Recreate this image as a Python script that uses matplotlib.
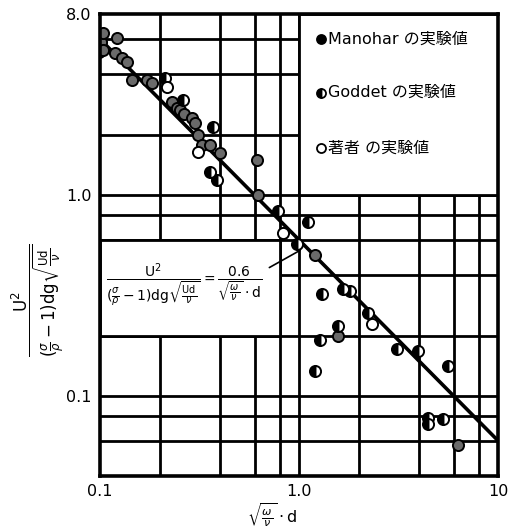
import matplotlib
matplotlib.use('Agg')
import matplotlib.pyplot as plt
from matplotlib.patches import Rectangle
import numpy as np

plt.rcParams['font.family'] = ['DejaVu Sans', 'Noto Sans CJK JP']
plt.rcParams['mathtext.fontset'] = 'dejavusans'

# Manohar data
manohar_x = [0.100, 0.101, 0.099, 0.1035, 0.1035, 0.122, 0.119, 0.129, 0.137, 0.145,
             0.172, 0.183, 0.230, 0.244, 0.252, 0.265, 0.290, 0.300, 0.311, 0.326,
             0.357, 0.401, 0.615, 0.622, 1.20, 1.57, 6.29]
manohar_y = [6.31, 5.82, 5.19, 5.31, 6.46, 6.10, 5.13, 4.84, 4.62, 3.76,
             3.76, 3.63, 2.92, 2.72, 2.66, 2.55, 2.43, 2.29, 2.00, 1.78,
             1.78, 1.62, 1.50, 1.00, 0.507, 0.20, 0.057]

# Goddet data
goddet_x = [0.212, 0.261, 0.370, 0.357, 0.387, 0.784, 1.11, 0.977, 1.305, 1.66,
            1.80, 1.57, 1.275, 1.20, 2.22, 3.11, 3.96, 5.61, 4.45, 4.45, 5.29]
goddet_y = [3.85, 2.99, 2.19, 1.30, 1.19, 0.84, 0.733, 0.575, 0.324, 0.343,
            0.335, 0.224, 0.19, 0.133, 0.26, 0.172, 0.168, 0.141, 0.0776, 0.0724, 0.0768]

# author's own data
author_x = [0.217, 0.311, 0.831, 2.33]
author_y = [3.47, 1.64, 0.646, 0.229]

# fitted line  U^2 / (...) = 0.6 / (sqrt(w/v) d)
coef = 0.6
fit_x = [0.1, 10.0]

grid_vals = [0.06, 0.08, 0.2, 0.4, 0.6, 0.8, 1, 2, 4, 6, 8]
legend_labels = ['Manohar の実験値', 'Goddet の実験値', '著者 の実験値']

ylab = r'$\dfrac{\mathrm{U}^2}{(\frac{\sigma}{\rho}-1)\mathrm{dg}\sqrt{\frac{\mathrm{Ud}}{\nu}}}$'
formula = (r'$\dfrac{\mathrm{U}^2}{(\frac{\sigma}{\rho}-1)\mathrm{dg}\sqrt{\frac{\mathrm{Ud}}{\nu}}}'
           r'=\dfrac{0.6}{\sqrt{\frac{\omega}{\nu}}\cdot\mathrm{d}}$')
xlab = r'$\sqrt{\frac{\omega}{\nu}}\cdot\mathrm{d}$'

fig = plt.figure(figsize=(5.08, 5.31), dpi=100)
ax = fig.add_axes([100 / 508, 55 / 531, 398 / 508, 462 / 531])
ax.set_xscale('log')
ax.set_yscale('log')
ax.set_xlim(0.1, 10)
ax.set_ylim(0.04, 8.0)

lw = 2.0
for v in grid_vals:
    if 0.1 < v < 10:
        ax.axvline(v, color='black', lw=lw, zorder=1)
for v in grid_vals + [0.1]:
    if 0.04 < v < 8:
        ax.axhline(v, color='black', lw=lw, zorder=1)

# blank boxes for the key and the formula
ax.add_patch(Rectangle((1.0, 1.0), 9.0, 7.0, facecolor='white', edgecolor='black',
                       lw=lw, zorder=2))
ax.add_patch(Rectangle((0.1, 0.2), 0.7, 0.4, facecolor='white', edgecolor='black',
                       lw=lw, zorder=2))

fx = np.array(fit_x)
ax.plot(fx, coef / fx, color='black', lw=2.6, zorder=3)

ms = 8
ax.plot(manohar_x, manohar_y, 'o', ms=ms, mfc='#6a6a6a', mec='black', mew=1.4, zorder=4)
ax.plot(goddet_x, goddet_y, 'o', ms=ms, fillstyle='left', mfc='black', mfcalt='white',
        mec='black', mew=1.4, zorder=4)
ax.plot(author_x, author_y, 'o', ms=ms, mfc='white', mec='black', mew=1.4, zorder=4)

# key
key_y = [0.945, 0.83, 0.71]
key_style = [dict(mfc='black', mec='black'),
             dict(fillstyle='left', mfc='black', mfcalt='white', mec='black'),
             dict(mfc='white', mec='black')]
for yy, lab, st in zip(key_y, legend_labels, key_style):
    ax.plot([0.555], [yy], 'o', ms=6.5, mew=1.3, transform=ax.transAxes, zorder=5, **st)
    ax.text(0.572, yy, lab, transform=ax.transAxes, fontsize=11.5, va='center',
            ha='left', zorder=5)

# formula
ax.text(0.212, 0.412, formula, transform=ax.transAxes, fontsize=10,
        ha='center', va='center', zorder=5)
ax.annotate('', xy=(1.04, 0.54), xytext=(0.69, 0.43),
            arrowprops=dict(arrowstyle='-', color='black', lw=1.2), zorder=5)

ax.set_xticks([0.1, 1.0, 10])
ax.set_xticklabels(['0.1', '1.0', '10'])
ax.set_yticks([0.1, 1.0, 8.0])
ax.set_yticklabels(['0.1', '1.0', '8.0'])
ax.minorticks_off()
ax.tick_params(length=0, labelsize=11.5, pad=6)
for s in ax.spines.values():
    s.set_linewidth(2.6)
    s.set_zorder(6)

fig.text(38 / 508, 1 - 300 / 531, ylab, rotation=90, fontsize=12,
         ha='center', va='center')
fig.text(272 / 508, 1 - 515 / 531, xlab, fontsize=11.5, ha='center', va='center')

fig.savefig('out.png', dpi=100)
